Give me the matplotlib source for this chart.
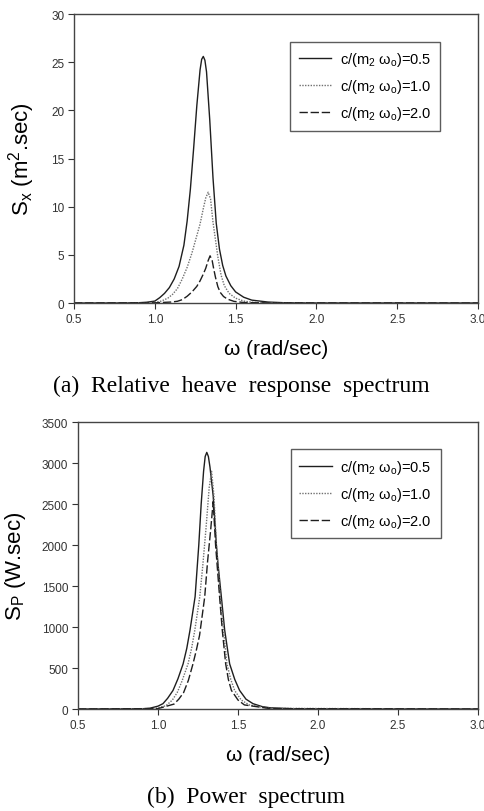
import matplotlib
matplotlib.use("Agg")
import matplotlib.pyplot as plt

plt.rcParams["font.family"] = ["Liberation Sans", "DejaVu Sans"]
plt.rcParams["mathtext.default"] = "regular"

# ---- (a) relative heave response spectrum S_x ----
W_X05 = [0.5, 0.8, 0.9, 0.95, 1.0, 1.03, 1.06, 1.09, 1.12, 1.15, 1.18, 1.2, 1.22, 1.24,
         1.26, 1.28, 1.29, 1.3, 1.31, 1.32, 1.34, 1.36, 1.38, 1.4, 1.42, 1.44, 1.47,
         1.5, 1.55, 1.6, 1.7, 1.8, 2.0, 3.0]
SX05 = [0, 0.005, 0.03, 0.08, 0.2, 0.55, 1.0, 1.6, 2.5, 3.8, 6.0, 8.5, 11.8, 16.0,
        20.5, 24.2, 25.3, 25.6, 25.2, 24.0, 19.0, 13.0, 8.3, 5.6, 3.9, 2.8, 1.8,
        1.15, 0.6, 0.3, 0.1, 0.03, 0.005, 0]

W_X10 = [0.5, 0.9, 1.0, 1.04, 1.08, 1.11, 1.14, 1.17, 1.2, 1.23, 1.26, 1.28, 1.3,
         1.315, 1.33, 1.345, 1.36, 1.375, 1.39, 1.41, 1.43, 1.46, 1.5, 1.55, 1.6,
         1.7, 1.8, 3.0]
SX10 = [0, 0.01, 0.06, 0.2, 0.5, 0.9, 1.5, 2.5, 3.7, 5.2, 7.0, 8.2, 9.8,
        10.9, 11.5, 10.8, 8.4, 6.6, 4.8, 2.9, 1.8, 1.0, 0.5, 0.2, 0.08,
        0.02, 0.005, 0]

W_X20 = [0.5, 1.0, 1.1, 1.14, 1.17, 1.2, 1.23, 1.26, 1.28, 1.3, 1.315, 1.33, 1.342,
         1.355, 1.365, 1.375, 1.39, 1.405, 1.425, 1.45, 1.49, 1.55, 1.7, 3.0]
SX20 = [0, 0.02, 0.1, 0.18, 0.35, 0.7, 1.15, 1.73, 2.3, 3.0, 3.6, 4.4, 4.9,
        4.4, 3.5, 2.7, 1.7, 1.1, 0.68, 0.4, 0.17, 0.05, 0.01, 0]

# ---- (b) power spectrum S_P ----
W_P05 = [0.5, 0.9, 0.95, 1.0, 1.031, 1.06, 1.094, 1.125, 1.157, 1.18, 1.2, 1.232,
         1.255, 1.27, 1.285, 1.295, 1.305, 1.315, 1.325, 1.345, 1.365, 1.375, 1.396,
         1.417, 1.448, 1.48, 1.51, 1.55, 1.594, 1.65, 1.7, 1.85, 3.0]
SP05 = [0, 3, 10, 35, 65, 130, 227, 370, 550, 740, 960, 1370,
        2000, 2500, 2900, 3080, 3130, 3080, 2950, 2600, 2000, 1770, 1370,
        960, 550, 360, 227, 120, 65, 30, 15, 3, 0]

W_P10 = [0.5, 0.98, 1.05, 1.09, 1.12, 1.15, 1.188, 1.21, 1.23, 1.261, 1.28, 1.30,
         1.32, 1.335, 1.35, 1.365, 1.39, 1.41, 1.431, 1.455, 1.479, 1.52, 1.57,
         1.7, 3.0]
SP10 = [0, 5, 40, 110, 200, 340, 552, 740, 960, 1366, 1750, 2200,
        2700, 2900, 2600, 2000, 1370, 960, 552, 360, 227, 110, 50,
        8, 0]

W_P20 = [0.5, 1.0, 1.1, 1.13, 1.16, 1.19, 1.219, 1.24, 1.26, 1.292, 1.31, 1.33,
         1.345, 1.36, 1.385, 1.402, 1.423, 1.44, 1.459, 1.5, 1.54, 1.7, 3.0]
SP20 = [0, 5, 60, 120, 200, 350, 552, 720, 900, 1366, 1800, 2200,
        2530, 2000, 1370, 960, 552, 360, 227, 110, 50, 5, 0]

LABELS = [r"c/(m$_2$ ω$_o$)=0.5", r"c/(m$_2$ ω$_o$)=1.0", r"c/(m$_2$ ω$_o$)=2.0"]
STYLES = [dict(color="#1e1e1e", linestyle="-", linewidth=1.0),
          dict(color="#707070", linestyle=(0, (1, 1)), linewidth=1.0),
          dict(color="#1e1e1e", linestyle=(0, (6, 2)), linewidth=1.0)]

X_TICKS = [0.5, 1.0, 1.5, 2.0, 2.5, 3.0]
X_TICKLABELS = ["0.5", "1.0", "1.5", "2.0", "2.5", "3.0"]


def draw_panel(ax, series, ylim, yticks, ylabel):
    for (w, s), label, st in zip(series, LABELS, STYLES):
        ax.plot(w, s, label=label, **st)
    ax.set_xlim(0.5, 3.0)
    ax.set_ylim(*ylim)
    ax.set_xticks(X_TICKS)
    ax.set_xticklabels(X_TICKLABELS)
    ax.set_yticks(yticks)
    ax.tick_params(direction="out", length=4, width=0.8, labelsize=8.5,
                   colors="#333333", pad=3)
    for sp in ax.spines.values():
        sp.set_color("#444444")
        sp.set_linewidth(1.0)
    ax.set_xlabel("ω (rad/sec)", fontsize=15, labelpad=10)
    ax.set_ylabel(ylabel, fontsize=16, labelpad=10)
    leg = ax.legend(loc="upper right", bbox_to_anchor=(0.925, 0.93), fontsize=10.5,
                    frameon=True, fancybox=False, handlelength=2.2,
                    handletextpad=0.6, borderpad=0.6, labelspacing=0.6)
    leg.get_frame().set_edgecolor("#333333")
    leg.get_frame().set_linewidth(1.0)


fig = plt.figure(figsize=(4.85, 8.12), dpi=100)

ax1 = fig.add_axes([0.1526, 0.6256, 0.8330, 0.3559])
draw_panel(ax1, [(W_X05, SX05), (W_X10, SX10), (W_X20, SX20)],
           (0, 30), [0, 5, 10, 15, 20, 25, 30], r"S$_x$ (m$^2$.sec)")

ax2 = fig.add_axes([0.1608, 0.1256, 0.8247, 0.3534])
draw_panel(ax2, [(W_P05, SP05), (W_P10, SP10), (W_P20, SP20)],
           (0, 3500), [0, 500, 1000, 1500, 2000, 2500, 3000, 3500], r"S$_P$ (W.sec)")

fig.text(0.497, 1 - 386 / 812, "(a)  Relative  heave  response  spectrum",
         ha="center", va="center", fontsize=17, family="Liberation Serif")
fig.text(0.507, 1 - 797 / 812, "(b)  Power  spectrum",
         ha="center", va="center", fontsize=17, family="Liberation Serif")

fig.savefig("out.png", dpi=100)
